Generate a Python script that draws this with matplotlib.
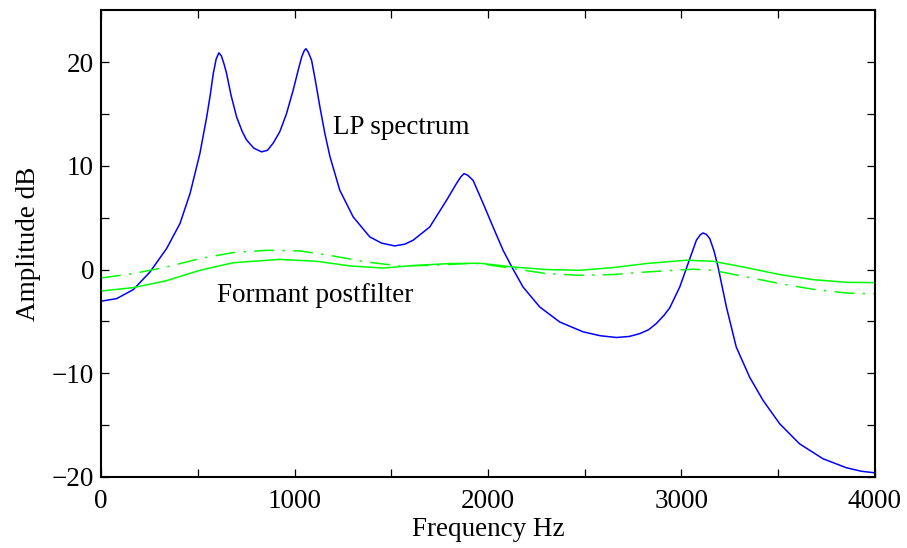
import numpy as np
import matplotlib.pyplot as plt

# LP spectrum (blue)
lp_freq = [0, 81, 167, 253, 339, 408, 460, 511, 546, 565, 580, 595, 609, 622, 636,
           649, 672, 701, 730, 752, 790, 830, 860, 890, 924, 958, 993, 1020, 1037,
           1050, 1059, 1070, 1088, 1108, 1131, 1156, 1183, 1234, 1303, 1389, 1450,
           1518, 1570, 1613, 1699, 1786, 1837, 1860, 1876, 1895, 1923, 1975, 2026,
           2078, 2121, 2181, 2267, 2371, 2491, 2580, 2664, 2730, 2784, 2830, 2870,
           2910, 2939, 2991, 3034, 3077, 3097, 3111, 3128, 3146, 3168, 3189, 3232,
           3283, 3352, 3421, 3507, 3610, 3731, 3852, 3930, 4000]
lp_db = [-3.05, -2.8, -1.93, -0.23, 2.03, 4.44, 7.33, 11.2, 14.7, 16.9, 18.9, 20.3,
         20.9, 20.6, 19.8, 18.9, 16.8, 14.7, 13.3, 12.5, 11.7, 11.35, 11.5, 12.2,
         13.3, 15.0, 17.3, 19.3, 20.5, 21.1, 21.3, 21.0, 20.2, 18.2, 15.7, 13.2,
         10.9, 7.65, 5.08, 3.15, 2.55, 2.28, 2.45, 2.83, 4.11, 6.69, 8.3, 8.95,
         9.25, 9.1, 8.6, 6.37, 4.11, 1.86, 0.32, -1.68, -3.6, -5.06, -6.0, -6.38,
         -6.55, -6.45, -6.18, -5.8, -5.2, -4.4, -3.7, -1.68, 0.58, 2.83, 3.35, 3.53,
         3.4, 2.99, 1.8, 0.25, -3.6, -7.47, -10.37, -12.6, -14.86, -16.8, -18.24,
         -19.11, -19.45, -19.6]

# formant postfilter, solid
pf_freq = [0, 167, 339, 511, 683, 924, 1114, 1287, 1458, 1631, 1803, 1958, 2130,
           2302, 2474, 2646, 2818, 3025, 3163, 3335, 3507, 3679, 3852, 4000]
pf_db = [-2.07, -1.74, -1.07, -0.07, 0.66, 0.98, 0.8, 0.35, 0.15, 0.41, 0.58, 0.61,
         0.25, 0.0, -0.07, 0.19, 0.58, 0.9, 0.8, 0.19, -0.48, -0.97, -1.23, -1.26]

# formant postfilter, dash-dot
pf2_freq = [0, 167, 339, 511, 683, 856, 1028, 1200, 1372, 1544, 1716, 1889, 1958,
            2130, 2302, 2474, 2646, 2818, 3060, 3163, 3335, 3507, 3679, 3852, 4000]
pf2_db = [-0.81, -0.39, 0.25, 1.06, 1.64, 1.86, 1.8, 1.31, 0.73, 0.35, 0.41, 0.58,
          0.58, 0.1, -0.39, -0.55, -0.48, -0.23, 0.03, -0.07, -0.71, -1.35, -1.9,
          -2.26, -2.35]

x_ticks = np.arange(0, 4001, 500)
y_ticks = np.arange(-20, 21, 5)

plt.rcParams['font.family'] = ['Liberation Serif', 'DejaVu Serif']
plt.rcParams['font.size'] = 19.5

fig = plt.figure(figsize=(9.07, 5.48), dpi=100)
ax = fig.add_axes([0.1114, 0.1296, 0.8533, 0.8516])

ax.plot(lp_freq, lp_db, color=(0, 0, 1), linewidth=1.1)
ax.plot(pf_freq, pf_db, color=(0, 1, 0), linewidth=1.1)
ax.plot(pf2_freq, pf2_db, color=(0, 1, 0), linewidth=1.1,
        linestyle=(0, (13, 5.5, 1.5, 5.5)))

ax.text(1198, 13.7, 'LP spectrum', va='center', ha='left')
ax.text(599, -2.5, 'Formant postfilter', va='center', ha='left')

ax.set_xlim(0, 4000)
ax.set_ylim(-20, 25)
ax.set_xticks(x_ticks)
ax.set_xticklabels([str(v) if v % 1000 == 0 else '' for v in x_ticks])
ax.set_yticks(y_ticks)
ax.set_yticklabels([str(v).replace('-', '\u2212') if v % 10 == 0 else '' for v in y_ticks])
ax.tick_params(axis='x', pad=9)
ax.tick_params(direction='in', top=True, right=True, length=6, width=0.9,
               labelsize=19.5)
ax.tick_params(axis='y', pad=5)
for s in ax.spines.values():
    s.set_linewidth(1.5)

ax.set_xlabel('Frequency Hz', labelpad=2)
ax.set_ylabel('Amplitude dB', labelpad=8)

fig.savefig('out.png', dpi=100)
